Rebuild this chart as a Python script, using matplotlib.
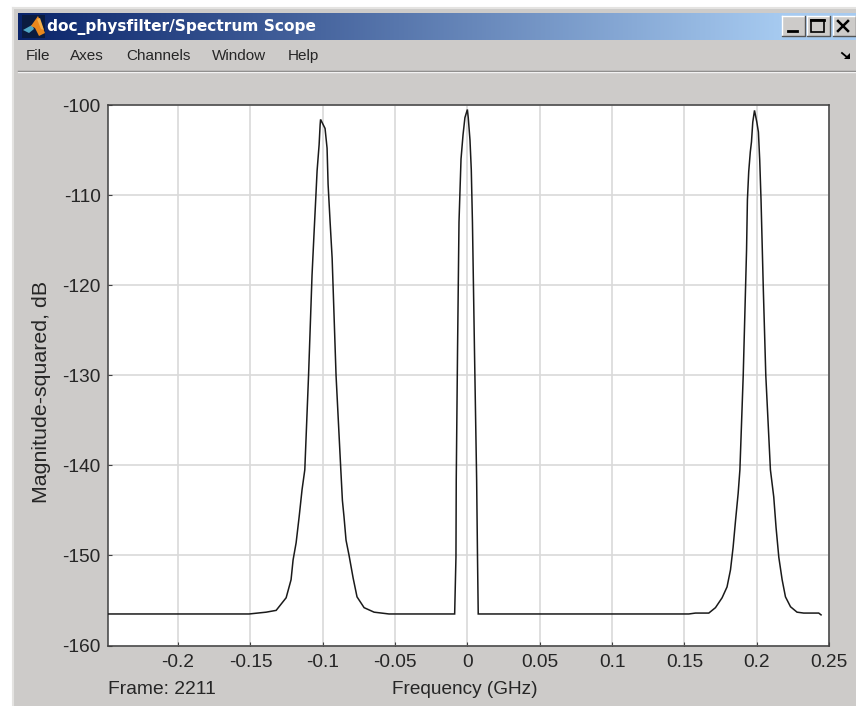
import numpy as np
import matplotlib
matplotlib.use("Agg")
import matplotlib.pyplot as plt
from matplotlib.patches import Rectangle, Polygon


WINDOW_TITLE = "doc_physfilter/Spectrum Scope"
MENU_ITEMS = ["File", "Axes", "Channels", "Window", "Help"]
MENU_X = [26, 70, 126, 212, 288]

FREQ_GHZ = [
    -0.2488, -0.1509, -0.1391, -0.1322, -0.1253, -0.1219, -0.1205, -0.1184,
    -0.1163, -0.1143, -0.1124, -0.1098, -0.1074, -0.1060, -0.1048, -0.1039,
    -0.1025, -0.1018, -0.1015, -0.0984, -0.0970, -0.0963, -0.0949, -0.0935,
    -0.0908, -0.0875, -0.0864, -0.0853, -0.0839, -0.0818, -0.0790, -0.0763,
    -0.0714, -0.0645, -0.0542, -0.0088, -0.0079, -0.0077, -0.0068, -0.0058,
    -0.0044, -0.0030, -0.0017, 0.0000, 0.0006, 0.0018, 0.0027, 0.0035,
    0.0049, 0.0064, 0.0070, 0.0075, 0.1531, 0.1577, 0.1669, 0.1715,
    0.1761, 0.1795, 0.1819, 0.1837, 0.1854, 0.1872, 0.1884, 0.1907,
    0.1930, 0.1936, 0.1945, 0.1956, 0.1964, 0.1973, 0.1985, 0.2001,
    0.2012, 0.2021, 0.2030, 0.2046, 0.2063, 0.2095, 0.2118, 0.2134,
    0.2153, 0.2176, 0.2199, 0.2234, 0.2279, 0.2325, 0.2429, 0.2445,
]
MAGNITUDE_DB = [
    -156.5, -156.5, -156.3, -156.1, -154.7, -152.7, -150.5, -148.6,
    -145.7, -142.7, -140.5, -130.0, -118.9, -114.2, -110.3, -107.3,
    -104.4, -102.2, -101.6, -102.6, -104.8, -108.8, -113.0, -117.0,
    -130.0, -140.5, -143.9, -145.7, -148.3, -150.0, -152.5, -154.6,
    -155.8, -156.3, -156.5, -156.5, -150.2, -141.6, -127.2, -113.0,
    -106.0, -103.3, -101.4, -100.5, -101.4, -103.9, -107.2, -113.0,
    -127.2, -141.6, -150.2, -156.5, -156.5, -156.4, -156.4, -155.8,
    -154.7, -153.5, -151.6, -149.1, -146.1, -143.1, -140.5, -130.0,
    -116.1, -110.5, -107.4, -105.2, -104.1, -101.9, -100.6, -101.9,
    -103.0, -106.1, -110.5, -120.5, -130.0, -140.5, -143.5, -146.9,
    -150.2, -152.7, -154.6, -155.7, -156.3, -156.4, -156.4, -156.6,
]
X_TICKS = [-0.2, -0.15, -0.1, -0.05, 0, 0.05, 0.1, 0.15, 0.2, 0.25]
X_TICK_LABELS = ["-0.2", "-0.15", "-0.1", "-0.05", "0", "0.05", "0.1", "0.15", "0.2", "0.25"]
Y_TICKS = [-160, -150, -140, -130, -120, -110, -100]

GREY = "#cdcbc9"
TEXT = "#262626"


def draw_window(fig):
    # window frame, in pixel coordinates of the screenshot
    bg = fig.add_axes([0, 0, 1, 1], zorder=-1)
    bg.axis("off")

    bg.add_patch(Rectangle((13, 8), 843, 698, fc=GREY, ec="none"))
    bg.plot([13, 13], [8, 706], color="#e4e3e1", lw=1.5)
    bg.plot([13, 856], [8, 8], color="#e4e3e1", lw=1.5)

    # title bar
    ramp = np.linspace(0, 1, 256).reshape(1, -1)
    cmap = matplotlib.colors.LinearSegmentedColormap.from_list("title", ["#0a246a", "#a6caf0"])
    bg.imshow(ramp, extent=(18, 780, 40, 13), cmap=cmap, aspect="auto", zorder=2)
    bg.add_patch(Rectangle((780, 13), 76, 27, fc="#a6caf0", ec="none", zorder=2))
    bg.set_xlim(0, 856)
    bg.set_ylim(706, 0)

    # matlab logo
    bg.add_patch(Rectangle((22, 15), 23, 23, fc="#0b1c40", ec="none", zorder=3))
    bg.add_patch(Polygon([[23, 30], [32, 25], [34, 29], [29, 33]], fc="#4fa6c4", ec="none", zorder=3))
    bg.add_patch(Polygon([[31, 26], [38, 16], [45, 33], [39, 36], [35, 28]], fc="#e8871e", ec="none", zorder=3))
    bg.add_patch(Polygon([[37, 19], [40, 18], [44, 30], [41, 29]], fc="#f4b04a", ec="none", zorder=3))

    bg.text(47, 27, WINDOW_TITLE, color="white", fontsize=11.05, fontweight="bold",
            family="DejaVu Sans", va="center", ha="left", zorder=4)

    # title bar buttons
    for left, glyph in zip([782, 807, 833], ["min", "max", "close"]):
        bg.add_patch(Rectangle((left, 16), 23, 20, fc=GREY, ec="none", zorder=3))
        bg.plot([left, left + 23], [16, 16], color="white", lw=1, zorder=4)
        bg.plot([left, left], [16, 36], color="white", lw=1, zorder=4)
        bg.plot([left, left + 23, left + 23], [36, 36, 16], color="#555555", lw=1, zorder=4)
        if glyph == "min":
            bg.plot([left + 6, left + 15], [31, 31], color="black", lw=2, zorder=5)
        elif glyph == "max":
            bg.add_patch(Rectangle((left + 4, 20), 13, 12, fc="none", ec="black", lw=1.2, zorder=5))
            bg.plot([left + 4, left + 17], [20, 20], color="black", lw=2, zorder=5)
        else:
            bg.plot([left + 5, left + 15], [21, 31], color="black", lw=1.8, zorder=5)
            bg.plot([left + 5, left + 15], [31, 21], color="black", lw=1.8, zorder=5)

    # menu bar
    for x, label in zip(MENU_X, MENU_ITEMS):
        bg.text(x, 60, label, color=TEXT, fontsize=11, family="Liberation Sans",
                va="baseline", ha="left")
    bg.plot([18, 856], [70.5, 70.5], color="#7a7978", lw=1)
    bg.plot([18, 856], [72, 72], color="#f2f2f2", lw=1)

    # docked arrow at the right of the menu bar
    bg.plot([842, 848], [53, 58], color="black", lw=1.3)
    bg.add_patch(Polygon([[850, 59], [850, 53], [844, 59]], fc="black", ec="none"))


def plot_spectrum(fig):
    ax = fig.add_axes([107.5 / 856, (706 - 645.5) / 706, (829 - 107.5) / 856, 540.5 / 706])
    ax.plot(FREQ_GHZ, MAGNITUDE_DB, color="#1a1a1a", lw=1.1, solid_joinstyle="miter", zorder=3)

    ax.set_xlim(-0.2488, 0.2497)
    ax.set_ylim(-160, -100)
    ax.set_xticks(X_TICKS)
    ax.set_xticklabels(X_TICK_LABELS)
    ax.set_yticks(Y_TICKS)

    ax.grid(True, color="#d9d9d9", lw=1.2)
    ax.set_axisbelow(True)
    ax.tick_params(direction="in", length=3, width=0.8, color="#404040", labelcolor=TEXT,
                   labelsize=13.8)
    ax.tick_params(axis="x", pad=6)
    ax.tick_params(axis="y", pad=5)
    for tick in ax.get_xticklabels() + ax.get_yticklabels():
        tick.set_family("Liberation Sans")
    for spine in ax.spines.values():
        spine.set_color("#404040")
        spine.set_linewidth(1.1)
    ax.patch.set_facecolor("white")

    fig.text(42 / 856, 1 - 392 / 706, "Magnitude-squared, dB", rotation=90, color=TEXT,
             fontsize=15.4, family="Liberation Sans", va="center", ha="center")
    fig.text(465 / 856, 1 - 690 / 706, "Frequency (GHz)", color=TEXT, fontsize=13.7,
             family="Liberation Sans", va="center", ha="center")
    fig.text(107.5 / 856, 1 - 689 / 706, "Frame: 2211", color=TEXT, fontsize=13.9,
             family="Liberation Sans", va="center", ha="left")


def main():
    plt.rcParams["axes.unicode_minus"] = False
    fig = plt.figure(figsize=(8.56, 7.06), dpi=100, facecolor="white")
    draw_window(fig)
    plot_spectrum(fig)
    fig.savefig("out.png", dpi=100)


if __name__ == "__main__":
    main()
